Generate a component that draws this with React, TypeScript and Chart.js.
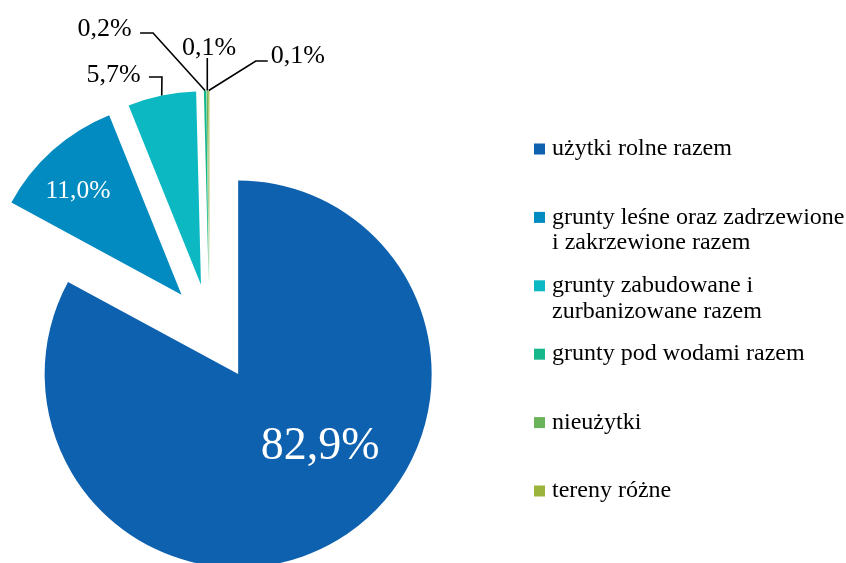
import React, { useEffect, useRef } from 'react';
import { Chart, registerables } from 'chart.js';

Chart.register(...registerables);

// ---- data ----
const categories: string[][] = [
  ['użytki rolne razem'],
  ['grunty leśne oraz zadrzewione', 'i zakrzewione razem'],
  ['grunty zabudowane i', 'zurbanizowane razem'],
  ['grunty pod wodami razem'],
  ['nieużytki'],
  ['tereny różne'],
];
const shares: number[] = [82.9, 11.0, 5.7, 0.2, 0.1, 0.1];

// ---- styles ----
const colors = ['#0E61AF', '#028BC0', '#0CB8C2', '#16B78B', '#6BB35A', '#9AB43C'];
const explode = [56, 42, 42, 42, 42, 42];
const FONT = '"Liberation Serif", "Times New Roman", serif';

type LabelStyle =
  | { inside: true; dx: number; dy: number; size: number }
  | { inside: false; path: [number, number][]; tx: number; ty: number; align: CanvasTextAlign; size: number };

const labelStyles: LabelStyle[] = [
  { inside: true, dx: 82, dy: 73, size: 46 },
  { inside: true, dx: -103.5, dy: -103.2, size: 25.5 },
  { inside: false, path: [[0.2, -18.4], [-12.8, -18.4]], tx: -21, ty: -20.5, align: 'right', size: 26 },
  { inside: false, path: [[-52, -57.5], [-65, -57.5]], tx: -73.4, ty: -61.5, align: 'right', size: 26 },
  { inside: false, path: [[0, -32.5]], tx: 1.7, ty: -42.5, align: 'center', size: 26 },
  { inside: false, path: [[47, -29.5], [59, -29.5]], tx: 62, ty: -34.5, align: 'left', size: 26 },
];

const legendStyle = { x: 534, y0: 149, pitch: 68.4, lineH: 25.5, box: 11, textX: 552, size: 24 };

const fmt = (v: number) => v.toFixed(1).replace('.', ',') + '%';

const explodePlugin = {
  id: 'explodeSlices',
  afterDatasetUpdate(chart: any, args: any) {
    const meta = args.meta;
    meta.data.forEach((el: any, i: number) => {
      const m = (el.startAngle + el.endAngle) / 2;
      const d = explode[i] || 0;
      el.x += Math.cos(m) * d;
      el.y += Math.sin(m) * d;
    });
  },
};

const labelPlugin = {
  id: 'sliceLabels',
  afterDatasetsDraw(chart: any) {
    const ctx: CanvasRenderingContext2D = chart.ctx;
    const meta = chart.getDatasetMeta(0);
    ctx.save();
    meta.data.forEach((el: any, i: number) => {
      const st = labelStyles[i];
      if (!st) return;
      const text = fmt(shares[i]);
      const m = (el.startAngle + el.endAngle) / 2;
      ctx.font = `${st.size}px ${FONT}`;
      ctx.textBaseline = 'middle';
      if (st.inside) {
        ctx.fillStyle = '#ffffff';
        ctx.textAlign = 'center';
        ctx.fillText(text, el.x + st.dx, el.y + st.dy);
      } else {
        const px = el.x + Math.cos(m) * el.outerRadius;
        const py = el.y + Math.sin(m) * el.outerRadius;
        ctx.strokeStyle = '#000000';
        ctx.lineWidth = 1.6;
        ctx.beginPath();
        ctx.moveTo(px, py);
        st.path.forEach(([dx, dy]) => ctx.lineTo(px + dx, py + dy));
        ctx.stroke();
        ctx.fillStyle = '#000000';
        ctx.textAlign = st.align;
        ctx.fillText(text, px + st.tx, py + st.ty);
      }
    });
    ctx.restore();
  },
};

const legendPlugin = {
  id: 'customLegend',
  afterDraw(chart: any) {
    const ctx: CanvasRenderingContext2D = chart.ctx;
    const L = legendStyle;
    ctx.save();
    ctx.font = `${L.size}px ${FONT}`;
    ctx.textBaseline = 'middle';
    ctx.textAlign = 'left';
    categories.forEach((lines, i) => {
      const yc = L.y0 + i * L.pitch;
      ctx.fillStyle = colors[i];
      ctx.fillRect(L.x, yc - L.box / 2, L.box, L.box);
      ctx.fillStyle = '#000000';
      lines.forEach((ln, k) => ctx.fillText(ln, L.textX, yc + k * L.lineH));
    });
    ctx.restore();
  },
};

export default function App() {
  const ref = useRef<HTMLCanvasElement | null>(null);
  useEffect(() => {
    if (!ref.current) return;
    const chart = new Chart(ref.current, {
      type: 'pie',
      data: {
        labels: categories,
        datasets: [
          {
            data: shares,
            backgroundColor: colors,
            borderWidth: 0,
            clip: false as any,
          },
        ],
      },
      options: {
        responsive: false,
        animation: false,
        devicePixelRatio: 1,
        events: [],
        radius: 193.5,
        layout: { padding: { left: 0, top: 89, right: 427, bottom: 0 } },
        plugins: {
          legend: { display: false },
          tooltip: { enabled: false },
        },
      } as any,
      plugins: [explodePlugin, labelPlugin, legendPlugin],
    });
    return () => chart.destroy();
  }, []);
  return (
    <div style={{ position: 'absolute', left: 0, top: 0, width: 846, height: 563, background: '#fff' }}>
      <canvas ref={ref} width={846} height={563} style={{ display: 'block' }} />
    </div>
  );
}
